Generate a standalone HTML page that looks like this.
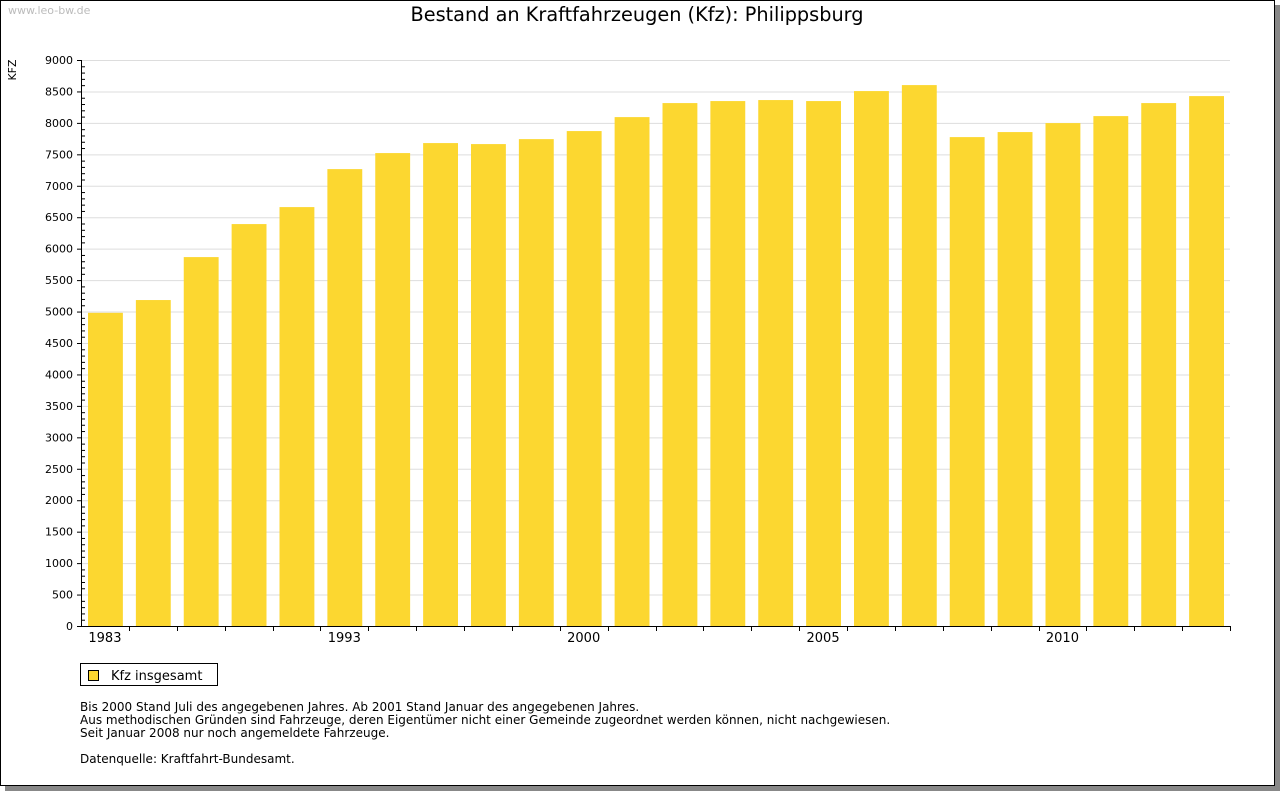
<!DOCTYPE html>
<html><head><meta charset="utf-8"><style>
body{margin:0;background:#fff;font-family:"DejaVu Sans","Liberation Sans",sans-serif;}
#frame{position:absolute;left:0;top:0;width:1273px;height:784px;border:1px solid #000;box-shadow:5px 5px 0 #888;background:#fff}
svg text{font-family:"DejaVu Sans","Liberation Sans",sans-serif}
</style></head><body>
<div id="frame"></div>
<svg id="c" width="1280" height="791" style="position:absolute;left:0;top:0">
<text x="8" y="14" font-size="11" fill="#bbb">www.leo-bw.de</text>
<text x="637" y="21" font-size="19.3" text-anchor="middle" fill="#000">Bestand an Kraftfahrzeugen (Kfz): Philippsburg</text>
<text transform="translate(16,70) rotate(-90)" font-size="11" text-anchor="middle">KFZ</text>
<g id="grid"></g><g id="bars"></g><g id="axes"></g>
<g>
<rect x="80.5" y="663.5" width="137" height="22" fill="#fff" stroke="#000"/>
<rect x="88.5" y="670.5" width="10" height="10" fill="#fcd730" stroke="#000"/>
<text x="111" y="680" font-size="13">Kfz insgesamt</text>
</g>
<g font-size="12">
<text x="80" y="711">Bis 2000 Stand Juli des angegebenen Jahres. Ab 2001 Stand Januar des angegebenen Jahres.</text>
<text x="80" y="724">Aus methodischen Gründen sind Fahrzeuge, deren Eigentümer nicht einer Gemeinde zugeordnet werden können, nicht nachgewiesen.</text>
<text x="80" y="737">Seit Januar 2008 nur noch angemeldete Fahrzeuge.</text>
<text x="80" y="763">Datenquelle: Kraftfahrt-Bundesamt.</text>
</g>
</svg>
<script>
const categories=["1983","1985","1987","1989","1991","1993","1995","1996","1997","1998","2000","2001","2002","2003","2004","2005","2006","2007","2008","2009","2010","2011","2012","2013"];
const values=[4980,5183,5866,6391,6661,7265,7520,7679,7663,7742,7870,8092,8315,8347,8363,8347,8506,8601,7774,7854,7997,8108,8315,8426];
const yTicks=[0,500,1000,1500,2000,2500,3000,3500,4000,4500,5000,5500,6000,6500,7000,7500,8000,8500,9000];
const xLabels=["1983","1993","2000","2005","2010"];
const X0=81,X1=1230,Y0=626,Y1=60,YMAX=9000;
const NS="http://www.w3.org/2000/svg";
const y=v=>Y0-(v/YMAX)*(Y0-Y1);
const bw=(X1-X0)/categories.length;
const x=i=>X0+i*bw;
function mk(t,a,p){const e=document.createElementNS(NS,t);for(const k in a)e.setAttribute(k,a[k]);p.appendChild(e);return e;}
const g=document.getElementById('grid'),b=document.getElementById('bars'),ax=document.getElementById('axes');
yTicks.forEach(v=>{
 if(v>0){const l=mk('line',{x1:X0,x2:X1,y1:y(v)+.5,y2:y(v)+.5,stroke:'#ddd'},g);
 
 }
 const t=mk('text',{x:73,y:y(v)+4,'font-size':11,'text-anchor':'end'},ax);t.textContent=v;
 
 
 mk('line',{x1:X0-4,x2:X0,y1:y(v)+.5,y2:y(v)+.5,stroke:'#000'},ax);
});
for(let v=100;v<YMAX;v+=100){if(v%500)mk('line',{x1:X0,x2:X0+4,y1:y(v)+.5,y2:y(v)+.5,stroke:'#000'},ax);}
values.forEach((v,i)=>{
 const r=mk('rect',{x:x(i)+7,y:y(v),width:bw-13,height:Y0-y(v),fill:'#fcd730'},b);
 
 
 mk('line',{x1:Math.round(x(i+1))+.5,x2:Math.round(x(i+1))+.5,y1:Y0,y2:Y0+5,stroke:'#000'},ax);
 if(xLabels.includes(categories[i])){const t=mk('text',{x:x(i)+bw/2,y:Y0+16,'font-size':13,'text-anchor':'middle'},ax);t.textContent=categories[i];
 
 }
});
const ya=mk('line',{x1:X0+.5,x2:X0+.5,y1:Y1,y2:Y0+1,stroke:'#000'},ax);


const xa=mk('line',{x1:X0,x2:X1+1,y1:Y0+.5,y2:Y0+.5,stroke:'#000'},ax);


</script>
</body></html>
